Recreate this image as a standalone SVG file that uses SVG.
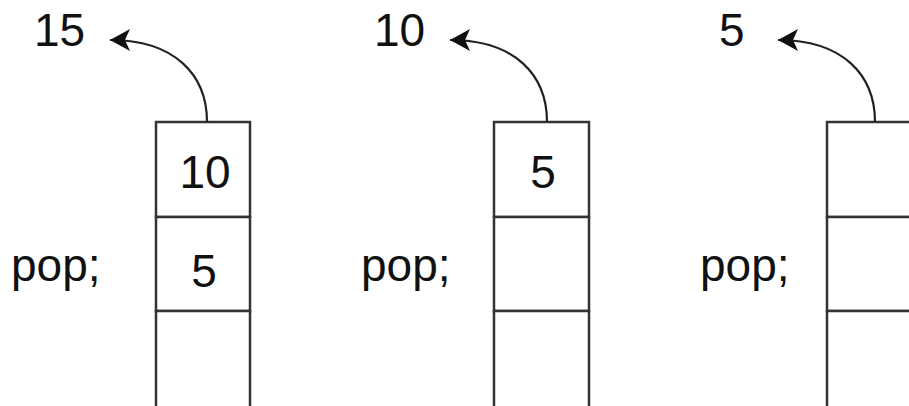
<svg xmlns="http://www.w3.org/2000/svg" width="909" height="406" viewBox="0 0 909 406">
  <style>
    .cell { fill: #ffffff; stroke: #333333; stroke-width: 2.5; }
    .t { font-family: "Liberation Sans", Arial, Helvetica, sans-serif; font-size: 46px; fill: #111111; }
    .c { text-anchor: middle; }
    .arrow { fill: none; stroke: #222222; stroke-width: 2.2; marker-end: url(#head); }
  </style>
  <defs>
    <marker id="head" markerUnits="userSpaceOnUse" markerWidth="24" markerHeight="26" viewBox="-21 -13 24 26" refX="0" refY="0" orient="auto">
      <path d="M0,0 L-20,-11 L-15,0 L-20,11 Z" fill="#111111"/>
    </marker>
  </defs>
  <rect width="909" height="406" fill="#ffffff"/>

  <g id="stack1">
    <rect class="cell" x="156" y="122" width="94" height="95"/>
    <rect class="cell" x="156" y="217" width="94" height="94"/>
    <rect class="cell" x="156" y="311" width="94" height="100"/>
    <text class="t c" x="205" y="188">10</text>
    <text class="t c" x="204" y="287">5</text>
    <text class="t" x="11" y="281">pop;</text>
    <text class="t" x="34" y="46">15</text>
  </g>

  <g id="stack2">
    <rect class="cell" x="494" y="122" width="95" height="95"/>
    <rect class="cell" x="494" y="217" width="95" height="94"/>
    <rect class="cell" x="494" y="311" width="95" height="100"/>
    <text class="t c" x="543" y="188">5</text>
    <text class="t" x="361" y="281">pop;</text>
    <text class="t" x="374" y="46">10</text>
  </g>

  <g id="stack3">
    <rect class="cell" x="827" y="122" width="95" height="95"/>
    <rect class="cell" x="827" y="217" width="95" height="94"/>
    <rect class="cell" x="827" y="311" width="95" height="100"/>
    <text class="t" x="700" y="281">pop;</text>
    <text class="t" x="719" y="46">5</text>
  </g>

  <g id="connectors">
    <path class="arrow" d="M207,122 C207,75 175,40 110,40"/>
    <path class="arrow" d="M547,122 C547,75 515,40 450,40"/>
    <path class="arrow" d="M875,122 C875,75 843,40 778,40"/>
  </g>
</svg>
